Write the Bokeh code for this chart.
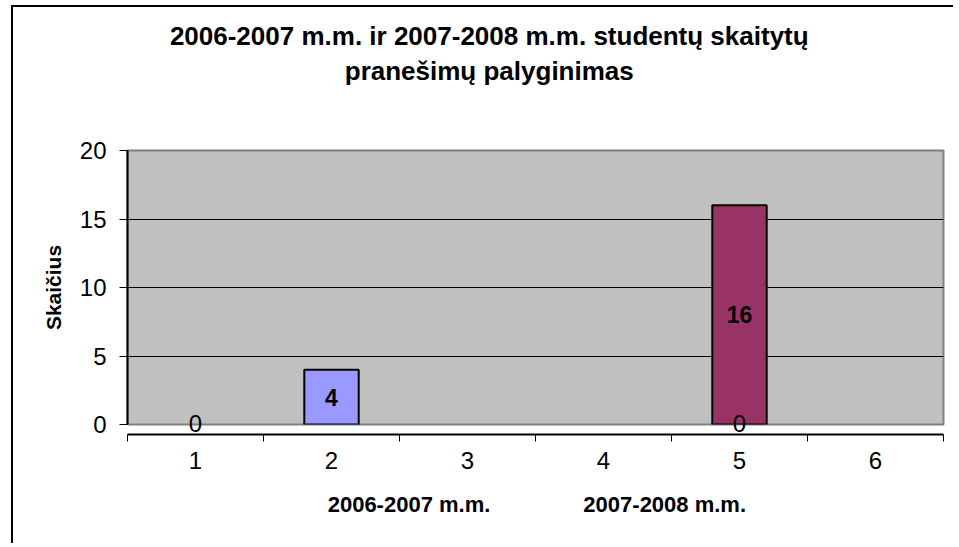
from bokeh.plotting import figure
from bokeh.models import (ColumnDataSource, FixedTicker, Range1d, LabelSet, LinearAxis)
from bokeh.core.properties import value
from bokeh.embed import file_html
from bokeh.resources import INLINE

# ---- data ----
categories = [1, 2, 3, 4, 5, 6]
cat_labels = ["1", "2", "3", "4", "5", "6"]
bar_cats = [2, 5]
bar_values = [4, 16]
bar_colors = ["#9999FF", "#993366"]
zero_cats = [1, 5]
zero_values = [0, 0]
legend_labels = ["2006-2007 m.m.", "2007-2008 m.m."]
y_ticks = [0, 5, 10, 15, 20]
title_lines = ["2006-2007 m.m. ir 2007-2008 m.m. studentų skaitytų", "pranešimų palyginimas"]
y_title = "Skaičius"

# ---- layout constants ----
FONT = "Liberation Sans"
TITLE_X = 3.16                 # horizontal centre of the title, in x data units
LEGEND_X = [2.57, 4.45]        # horizontal centres of the series names

p = figure(width=942, height=538, output_backend="svg", toolbar_location=None,
           x_range=Range1d(0.5, 6.5), y_range=Range1d(0, 20),
           min_border_left=114, min_border_right=12, min_border_top=143, min_border_bottom=121,
           styles={"margin-left": "11px", "margin-top": "5px",
                   "border-left": "2px solid black", "border-top": "2px solid black"})

p.background_fill_color = "#C0C0C0"
p.border_fill_color = "white"
p.outline_line_color = "#808080"
p.outline_line_width = 2

# bars
bars = ColumnDataSource(dict(x=bar_cats, top=bar_values, color=bar_colors,
                             mid=[v / 2 for v in bar_values],
                             txt=[str(v) for v in bar_values]))
p.vbar(x="x", top="top", bottom=0, width=0.4, fill_color="color",
       line_color="black", line_width=2, source=bars)

p.add_layout(LabelSet(x="x", y="mid", text="txt", source=bars, text_align="center",
                      text_baseline="middle", text_font=value(FONT), text_font_size=value("23px"),
                      text_font_style="bold", text_color="black"))

# main axes
p.xaxis.ticker = FixedTicker(ticks=categories,
                             minor_ticks=[c - 0.5 for c in categories] + [categories[-1] + 0.5])
p.xaxis.major_label_overrides = {c: l for c, l in zip(categories, cat_labels)}
p.xaxis.major_tick_out = 0
p.xaxis.major_tick_in = 0
p.xaxis.minor_tick_out = 7
p.xaxis.minor_tick_in = 0
p.xaxis.minor_tick_line_color = "black"
p.xaxis.major_label_standoff = 10

p.yaxis.ticker = FixedTicker(ticks=y_ticks)
p.yaxis.major_tick_out = 8
p.yaxis.major_tick_in = 0
p.yaxis.minor_tick_line_color = None
p.yaxis.major_label_standoff = 13
p.yaxis.axis_label = y_title
p.yaxis.axis_label_text_font = FONT
p.yaxis.axis_label_text_font_size = "21px"
p.yaxis.axis_label_text_font_style = "bold"
p.yaxis.axis_label_text_color = "black"
p.yaxis.axis_label_standoff = 12

for ax in (p.xaxis, p.yaxis):
    ax.axis_line_color = "black"
    ax.axis_line_width = 2
    ax.major_tick_line_color = "black"
    ax.major_label_text_font = FONT
    ax.major_label_text_font_size = "24px"
    ax.major_label_text_color = "black"

p.xgrid.grid_line_color = None
p.ygrid.grid_line_color = "black"
p.ygrid.grid_line_width = 1
p.ygrid.ticker = FixedTicker(ticks=y_ticks[1:-1])


def text_axis(ticks, labels, size, standoff, bold=True):
    ax = LinearAxis(ticker=FixedTicker(ticks=ticks),
                    major_label_overrides={t: l for t, l in zip(ticks, labels)})
    ax.axis_line_color = None
    ax.major_tick_line_color = None
    ax.minor_tick_line_color = None
    ax.major_tick_out = 0
    ax.major_tick_in = 0
    ax.major_label_standoff = standoff
    ax.major_label_text_font = FONT
    ax.major_label_text_font_size = size
    ax.major_label_text_font_style = "bold" if bold else "normal"
    ax.major_label_text_color = "black"
    return ax


# zero-value labels sitting on the baseline (drawn as an unclipped label row)
zero_axis = text_axis(zero_cats, [str(v) for v in zero_values], "24px", -10, bold=False)
# series names under the category axis
legend_axis = text_axis(LEGEND_X, legend_labels, "22px", 20)
main_x = p.below[0]
p.below = [zero_axis, main_x, legend_axis]

# two-line title above the plot (inner line added first)
p.add_layout(text_axis([TITLE_X], [title_lines[1]], "26px", 65), "above")
p.add_layout(text_axis([TITLE_X], [title_lines[0]], "26px", 2), "above")

open("out.html", "w").write(file_html(p, INLINE))
